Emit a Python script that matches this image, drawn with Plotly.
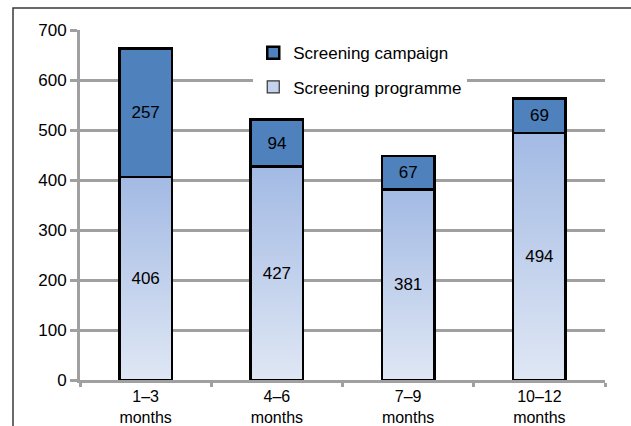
import plotly.graph_objects as go

categories = ["1–3<br>months", "4–6<br>months", "7–9<br>months", "10–12<br>months"]
programme = [406, 427, 381, 494]
campaign = [257, 94, 67, 69]
y_ticks = [0, 100, 200, 300, 400, 500, 600, 700]

FONT = "Liberation Sans, Arial, sans-serif"
BAR_W = 0.4
GRID = "#a0a0a0"
grad_bottom = "#dfe7f4"
grad_top = "#a3bae4"
campaign_color = "#4f81bd"

fig = go.Figure()

# gradient fills for the programme bars (drawn on the main, lower subplot)
for i, v in enumerate(programme):
    fig.add_trace(go.Scatter(
        x=[i - BAR_W / 2, i + BAR_W / 2, i + BAR_W / 2, i - BAR_W / 2, i - BAR_W / 2],
        y=[0, 0, v, v, 0],
        mode="lines", fill="toself",
        fillgradient=dict(type="vertical", colorscale=[[0, grad_bottom], [1, grad_top]]),
        line=dict(color="black", width=0.5),
        showlegend=False, hoverinfo="skip", xaxis="x", yaxis="y",
    ))

# stacked bars on overlaid axes (drawn above gradients)
fig.add_trace(go.Bar(
    x=categories, y=programme, name="Screening programme",
    marker=dict(color="rgba(0,0,0,0)", line=dict(color="black", width=2.5)),
    text=programme, textposition="inside", insidetextanchor="middle",
    textfont=dict(color="black", size=17, family=FONT), textangle=0,
    width=BAR_W, showlegend=False, xaxis="x2", yaxis="y2",
))
fig.add_trace(go.Bar(
    x=categories, y=campaign, name="Screening campaign",
    marker=dict(color=campaign_color, line=dict(color="black", width=2.5)),
    text=campaign, textposition="inside", insidetextanchor="middle",
    textfont=dict(color="black", size=17, family=FONT), textangle=0,
    width=BAR_W, xaxis="x2", yaxis="y2", legendrank=1, legendgroup="a",
))
# legend entry for the programme series
fig.add_trace(go.Bar(
    x=categories, y=[None] * len(categories), name="Screening programme",
    marker=dict(color="#c4d3ed", line=dict(color="#333333", width=1.2)),
    xaxis="x2", yaxis="y2", legendrank=2, legendgroup="b", hoverinfo="skip",
))

fig.update_layout(
    width=631, height=426,
    margin=dict(l=80, r=26, t=30, b=46, autoexpand=False),
    paper_bgcolor="white", plot_bgcolor="white",
    barmode="stack",
    font=dict(family=FONT, size=17, color="black"),
    uniformtext=dict(minsize=17, mode="show"),
    xaxis=dict(range=[-0.5, 3.5], showgrid=False, zeroline=False, automargin=False,
               showticklabels=False, ticks="", showline=False, fixedrange=True),
    yaxis=dict(range=[0, 700], tickvals=y_ticks, showgrid=True, gridcolor=GRID,
               gridwidth=2.5, zeroline=False, showline=True, linecolor=GRID,
               linewidth=3, ticks="outside", ticklen=7, tickwidth=2.5,
               tickcolor=GRID, tickfont=dict(size=17, family=FONT), automargin=False),
    xaxis2=dict(overlaying="x", type="category", range=[-0.5, 3.5], automargin=False,
                showgrid=False, showline=True, linecolor=GRID, linewidth=3,
                ticks="outside", tickson="boundaries", ticklen=4, tickwidth=3,
                tickcolor=GRID, tickfont=dict(size=16, family=FONT)),
    yaxis2=dict(overlaying="y", range=[0, 700], showgrid=False, zeroline=False,
                showticklabels=False, showline=False, ticks="", automargin=False),
    legend=dict(x=0.33, y=0.985, xanchor="left", yanchor="top",
                bgcolor="white", borderwidth=0,
                font=dict(size=17, family=FONT),
                traceorder="grouped", tracegroupgap=9),
    shapes=[dict(type="rect", xref="paper", yref="paper",
                 x0=-0.1276, y0=-0.4, x1=1.3, y1=1.063,
                 line=dict(color="#3a3a3a", width=1.5), layer="above")],
)

fig.write_html("out.html")
